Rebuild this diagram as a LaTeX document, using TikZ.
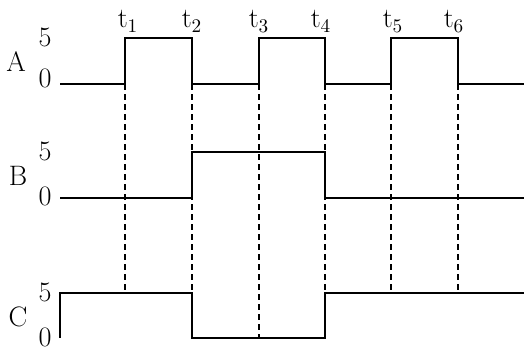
\documentclass[tikz,border=0pt]{standalone}
\usepackage{tikz}
\usetikzlibrary{positioning}
\tikzset{
  wave/.style={line width=1.1pt, color=black, line join=miter},
  guide/.style={line width=1.1pt, color=black, dash pattern=on 3.4pt off 2.3pt},
  siglabel/.style={font=\fontsize{16}{19}\selectfont, anchor=base},
  lvllabel/.style={font=\fontsize{16}{19}\selectfont, anchor=base},
  timelabel/.style={font=\fontsize{16}{19}\selectfont, anchor=base}
}
\begin{document}
\begin{tikzpicture}[x=0.02cm, y=-0.02cm]
  \useasboundingbox (0,0) rectangle (524,354);

  % Time instants
  \foreach \n/\x/\lx in {1/125/128, 2/192/192, 3/259/259, 4/325/321, 5/391/393, 6/458/454} {
    \coordinate (t\n) at (\x,84);
    \node[timelabel] (lt\n) at (\lx,28) {t$_\n$};
  }

  % Dashed guide lines
  \foreach \n/\y in {1/293, 2/293, 3/338, 4/293, 5/293, 6/293}
    \draw[guide] (t\n) -- ++(0,\y-84);

  % Signal names and levels
  \node[siglabel] (nA) at (16,72) {A};
  \node[lvllabel] (A5) at (45,47) {5};
  \node[lvllabel] (A0) at (45,88) {0};

  \node[siglabel] (nB) at (18,186) {B};
  \node[lvllabel] (B5) at (45,161) {5};
  \node[lvllabel] (B0) at (45,206) {0};

  \node[siglabel] (nC) at (18,327) {C};
  \node[lvllabel] (C5) at (45,302) {5};
  \node[lvllabel] (C0) at (45,347) {0};

  % Waveform A
  \draw[wave] (60,84) -- (125,84) -- (125,38) -- (192,38) -- (192,84)
    -- (259,84) -- (259,38) -- (325,38) -- (325,84)
    -- (391,84) -- (391,38) -- (458,38) -- (458,84) -- (524,84);

  % Waveform B
  \draw[wave] (60,198) -- (192,198) -- (192,152) -- (325,152) -- (325,198) -- (524,198);

  % Waveform C
  \draw[wave] (60,338) -- (60,293) -- (192,293) -- (192,338)
    -- (325,338) -- (325,293) -- (524,293);
\end{tikzpicture}
\end{document}
